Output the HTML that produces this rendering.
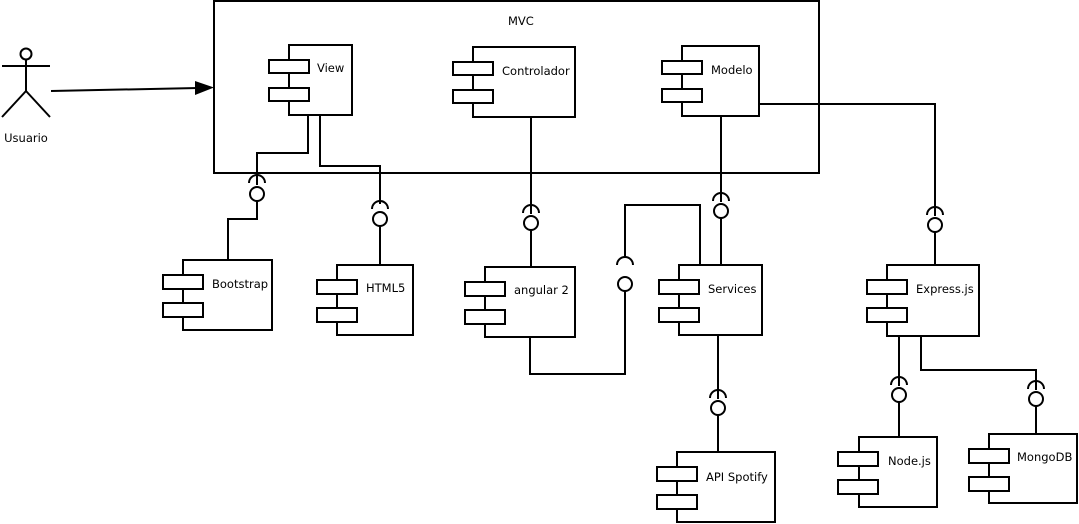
<!DOCTYPE html>
<html><head><meta charset="utf-8"><style>
html,body{margin:0;padding:0;background:#fff;}
svg{display:block;}
text{font-family:"DejaVu Sans","Liberation Sans",sans-serif;font-size:11.5px;fill:#000;}
</style></head><body>
<svg width="1079" height="524" viewBox="0 0 1079 524" xmlns="http://www.w3.org/2000/svg">
<g fill="none" stroke="#000" stroke-width="2">
<rect x="214" y="1" width="605" height="172"/>
<circle cx="26" cy="54" r="5.5"/>
<line x1="2" y1="66" x2="50" y2="66"/>
<line x1="26" y1="60" x2="26" y2="91"/>
<line x1="26" y1="91" x2="2" y2="117"/>
<line x1="26" y1="91" x2="50" y2="117"/>
<line x1="51" y1="91" x2="198" y2="88"/>
</g>
<polygon points="214,87.5 195,81 195,95" fill="#000"/>

<g fill="#fff" stroke="#000" stroke-width="2">
<rect x="289" y="45" width="63" height="70"/><rect x="269" y="60" width="40" height="13"/><rect x="269" y="88" width="40" height="13"/>
<rect x="473" y="47" width="102" height="70"/><rect x="453" y="62" width="40" height="13"/><rect x="453" y="90" width="40" height="13"/>
<rect x="682" y="46" width="77" height="70"/><rect x="662" y="61" width="40" height="13"/><rect x="662" y="89" width="40" height="13"/>
<rect x="183" y="260" width="89" height="70"/><rect x="163" y="275" width="40" height="14"/><rect x="163" y="303" width="40" height="14"/>
<rect x="337" y="265" width="76" height="70"/><rect x="317" y="280" width="40" height="14"/><rect x="317" y="308" width="40" height="14"/>
<rect x="485" y="267" width="90" height="70"/><rect x="465" y="282" width="40" height="14"/><rect x="465" y="310" width="40" height="14"/>
<rect x="679" y="265" width="83" height="70"/><rect x="659" y="280" width="40" height="14"/><rect x="659" y="308" width="40" height="14"/>
<rect x="887" y="265" width="92" height="71"/><rect x="867" y="280" width="40" height="14"/><rect x="867" y="308" width="40" height="14"/>
<rect x="859" y="437" width="78" height="70"/><rect x="838" y="452" width="40" height="14"/><rect x="838" y="480" width="40" height="14"/>
<rect x="989" y="434" width="88" height="69"/><rect x="969" y="449" width="40" height="14"/><rect x="969" y="477" width="40" height="14"/>
<rect x="677" y="452" width="98" height="70"/><rect x="657" y="467" width="40" height="14"/><rect x="657" y="495" width="40" height="14"/>
</g>

<g fill="none" stroke="#000" stroke-width="2">
<polyline points="308,115 308,153 257,153 257,185"/>
<path d="M249,183 A8,8 0 0 1 265,183"/>
<circle cx="257" cy="194" r="7" fill="#fff"/>
<polyline points="257,201 257,219 228,219 228,260"/>
<polyline points="320,115 320,166 380,166 380,204"/>
<path d="M372,209 A8,8 0 0 1 388,209"/>
<circle cx="380" cy="219" r="7" fill="#fff"/>
<line x1="380" y1="226" x2="380" y2="265"/>
<line x1="531" y1="117" x2="531" y2="214"/>
<path d="M523,213 A8,8 0 0 1 539,213"/>
<circle cx="531" cy="223" r="7" fill="#fff"/>
<line x1="531" y1="230" x2="531" y2="267"/>
<polyline points="530,337 530,374 625,374 625,291"/>
<circle cx="625" cy="284" r="7" fill="#fff"/>
<path d="M617,265 A8,8 0 0 1 633,265"/>
<polyline points="625,257 625,205 700,205 700,265"/>
<line x1="721" y1="116" x2="721" y2="202"/>
<path d="M713,201 A8,8 0 0 1 729,201"/>
<circle cx="721" cy="211" r="7" fill="#fff"/>
<line x1="721" y1="218" x2="721" y2="265"/>
<polyline points="759,104 935,104 935,216"/>
<path d="M927,215 A8,8 0 0 1 943,215"/>
<circle cx="935" cy="225" r="7" fill="#fff"/>
<line x1="935" y1="232" x2="935" y2="265"/>
<line x1="718" y1="335" x2="718" y2="399"/>
<path d="M710,398 A8,8 0 0 1 726,398"/>
<circle cx="718" cy="408" r="7" fill="#fff"/>
<line x1="718" y1="415" x2="718" y2="452"/>
<line x1="899" y1="336" x2="899" y2="386"/>
<path d="M891,385 A8,8 0 0 1 907,385"/>
<circle cx="899" cy="395" r="7" fill="#fff"/>
<line x1="899" y1="402" x2="899" y2="437"/>
<polyline points="921,336 921,370 1036,370 1036,390"/>
<path d="M1028,389 A8,8 0 0 1 1044,389"/>
<circle cx="1036" cy="399" r="7" fill="#fff"/>
<line x1="1036" y1="406" x2="1036" y2="434"/>
</g>

<text x="508" y="25">MVC</text>
<text x="26" y="142" text-anchor="middle">Usuario</text>
<text x="317" y="72">View</text>
<text x="502" y="75">Controlador</text>
<text x="711" y="74">Modelo</text>
<text x="212" y="288">Bootstrap</text>
<text x="366" y="292">HTML5</text>
<text x="514" y="294">angular 2</text>
<text x="708" y="293">Services</text>
<text x="916" y="293">Express.js</text>
<text x="888" y="465">Node.js</text>
<text x="1017" y="461">MongoDB</text>
<text x="706" y="481">API Spotify</text>
</svg>
</body></html>
